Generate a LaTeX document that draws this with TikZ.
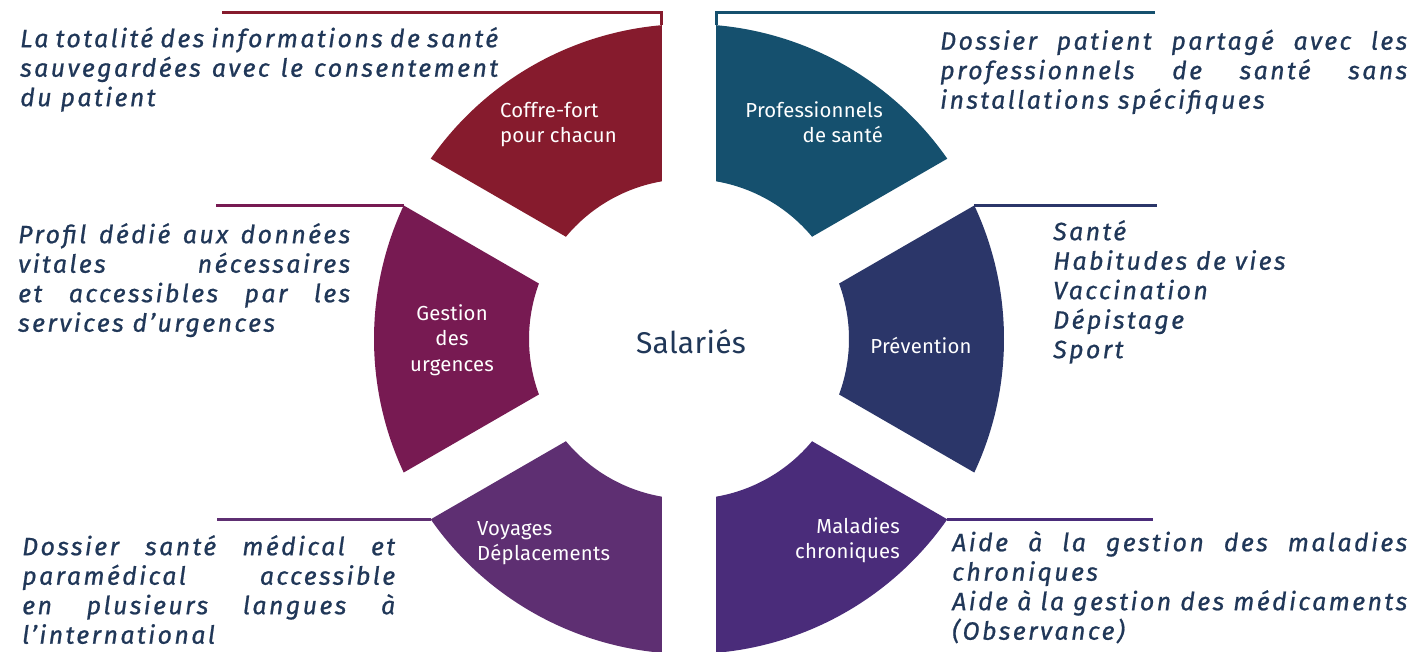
\documentclass[tikz,border=0pt]{standalone}
\usepackage{fontspec}
\setmainfont{Fira Sans}
\newfontfamily\descfont{Fira Sans}[LetterSpace=9.5,FakeBold=0.8]
\newfontfamily\labfont{Fira Sans}[LetterSpace=1]
\definecolor{cRed}{RGB}{134,27,45}
\definecolor{cTeal}{RGB}{21,80,110}
\definecolor{cNavy}{RGB}{43,54,105}
\definecolor{cPurp}{RGB}{74,44,122}
\definecolor{cViol}{RGB}{94,47,114}
\definecolor{cMag}{RGB}{119,26,82}
\definecolor{txt}{RGB}{32,55,88}
\newcommand\segfill[2]{\fill[#2] ({#1-25.08}:315pt) arc[start angle={#1-25.08}, end angle={#1+25.08}, radius=315pt] -- ({#1+20.28}:160pt) arc[start angle={#1+20.28}, end angle={#1-20.28}, radius=160pt] -- cycle;}
\newcommand\jline[2]{\makebox[#1][s]{#2}}
\newcommand\dstrut{\rule{0pt}{22pt}}
\newcommand\lstrut{\rule{0pt}{17pt}}
\tikzset{
  desc/.style={font=\descfont\itshape\fontsize{25}{29.5}\selectfont, text=txt, inner sep=0pt, anchor=north west, align=left},
  lab/.style={font=\labfont\fontsize{20.3}{25.5}\selectfont, text=white, inner sep=0pt},
  lead/.style={line width=3pt}
}
\begin{document}
\begin{tikzpicture}[x=1pt,y=1pt]
\useasboundingbox (0,0) rectangle (1411,651);
\fill[white] (0,0) rectangle (1411,651);
\begin{scope}[shift={(689,312)}]
  \segfill{120}{cRed}
  \segfill{60}{cTeal}
  \segfill{0}{cNavy}
  \segfill{-60}{cPurp}
  \segfill{240}{cViol}
  \segfill{180}{cMag}
  \coordinate (kCoffre) at (94.92:315pt);
  \coordinate (kProf) at (85.08:315pt);
  \coordinate (kGest) at (154.92:315pt);
  \coordinate (kPrev) at (25.08:315pt);
  \coordinate (kVoy) at (214.92:315pt);
  \coordinate (kMal) at (325.08:315pt);
\end{scope}
% leader ends
\coordinate (eCoffre) at (222,638);
\coordinate (eProf) at (1155,638);
\coordinate (eGest) at (216,0);
\coordinate (ePrev) at (1157,0);
\coordinate (eVoy) at (217,0);
\coordinate (eMal) at (1153,0);
\draw[lead, cRed] (kCoffre) |- (eCoffre);
\draw[lead, cTeal] (kProf) |- (eProf);
\draw[lead, cMag] (kGest) -- (kGest -| eGest);
\draw[lead, cNavy] (kPrev) -- (kPrev -| ePrev);
\draw[lead, cViol] (kVoy) -- (kVoy -| eVoy);
\draw[lead, cPurp] (kMal) -- (kMal -| eMal);
% centre
\node[font=\labfont\fontsize{30}{36}\selectfont, text=txt, inner sep=0pt] (sal) at (691,309) {Salariés};
% segment labels
\node[lab, anchor=north west, align=left] (lCoffre) at (500,551) {\lstrut Coffre-fort\\pour chacun};
\node[lab, anchor=north east, align=right] (lProf) at (883,551) {\lstrut Professionnels\\de santé};
\node[lab, anchor=north, align=center] (lGest) at (452,348) {\lstrut Gestion\\des\\urgences};
\node[lab, anchor=base] (lPrev) at (921,297) {Prévention};
\node[lab, anchor=north west, align=left] (lVoy) at (477,133) {\lstrut Voyages\\Déplacements};
\node[lab, anchor=north east, align=right] (lMal) at (900,135) {\lstrut Maladies\\chroniques};
% descriptions
\node[desc] (dCoffre) at (20,626) {\dstrut\jline{478pt}{La totalité des informations de santé}\\\jline{478pt}{sauvegardées avec le consentement}\\du patient};
\node[desc] (dProf) at (940,623.5) {\dstrut\jline{467pt}{Dossier patient partagé avec les}\\\jline{467pt}{professionnels de santé sans}\\installations spécifiques};
\node[desc] (dGest) at (18,430) {\dstrut\jline{332pt}{Profil dédié aux données}\\\jline{332pt}{vitales nécessaires}\\\jline{332pt}{et accessibles par les}\\services d’urgences};
\node[desc] (dPrev) at (1053,433) {\dstrut Santé\\Habitudes de vies\\Vaccination\\Dépistage\\Sport};
\node[desc] (dVoy) at (22,118) {\dstrut\jline{373pt}{Dossier santé médical et}\\\jline{373pt}{paramédical accessible}\\\jline{373pt}{en plusieurs langues à}\\l’international};
\node[desc] (dMal) at (952,122) {\dstrut\jline{455pt}{Aide à la gestion des maladies}\\chroniques\\\jline{455pt}{Aide à la gestion des médicaments}\\(Observance)};
\end{tikzpicture}
\end{document}
